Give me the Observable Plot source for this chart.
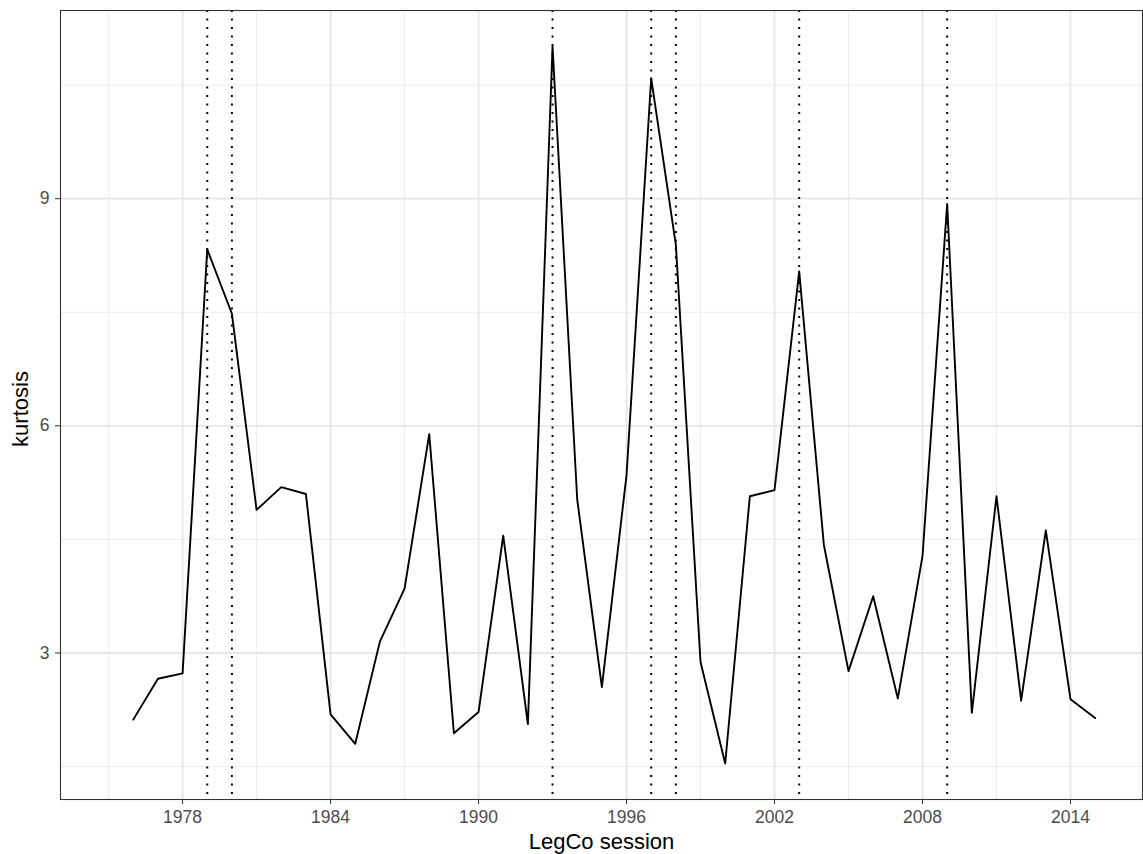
<!DOCTYPE html>
<html><head><meta charset="utf-8">
<script src="https://cdn.jsdelivr.net/npm/d3@7"></script>
<script src="https://cdn.jsdelivr.net/npm/@observablehq/plot@0.6"></script>
<style>body{margin:0;background:#fff;} #chart svg{display:block;}</style>
</head><body><div id="chart"></div>
<script>
const years = [1976,1977,1978,1979,1980,1981,1982,1983,1984,1985,1986,1987,1988,1989,1990,1991,1992,1993,1994,1995,1996,1997,1998,1999,2000,2001,2002,2003,2004,2005,2006,2007,2008,2009,2010,2011,2012,2013,2014,2015];
const kurtosis = [2.12,2.66,2.73,8.33,7.48,4.89,5.19,5.10,2.19,1.80,3.15,3.85,5.89,1.94,2.22,4.55,2.06,11.01,5.03,2.55,5.35,10.59,8.39,2.88,1.54,5.07,5.15,8.04,4.43,2.76,3.75,2.40,4.28,8.93,2.21,5.07,2.37,4.62,2.39,2.14];
const sessionMarks = [1979,1980,1993,1997,1998,2003,2009];
const xMajorTicks = [1978,1984,1990,1996,2002,2008,2014];
const xMinorTicks = [1975,1981,1987,1993,1999,2005,2011];
const yMajorTicks = [3,6,9];
const yMinorTicks = [1.5,4.5,7.5,10.5];
const xTitle = "LegCo session";
const yTitle = "kurtosis";

const data = years.map((year, i) => ({year, kurtosis: kurtosis[i]}));

const chart = Plot.plot({
  width: 1143, height: 854,
  marginLeft: 60, marginRight: 1, marginTop: 10, marginBottom: 55,
  style: {fontFamily: "'Liberation Sans', Arial, Helvetica, sans-serif", background: "#fff"},
  x: {domain: [1973.05, 2016.92]},
  y: {domain: [1.065, 11.485]},
  marks: [
    Plot.ruleX(xMinorTicks, {stroke: "#ebebeb", strokeWidth: 0.9}),
    Plot.ruleY(yMinorTicks, {stroke: "#ebebeb", strokeWidth: 0.9}),
    Plot.ruleX(xMajorTicks, {stroke: "#e6e6e6", strokeWidth: 1.8}),
    Plot.ruleY(yMajorTicks, {stroke: "#e6e6e6", strokeWidth: 1.8}),
    Plot.ruleX(sessionMarks, {stroke: "#000", strokeWidth: 2, strokeDasharray: "2,6.5"}),
    Plot.line(data, {x: "year", y: "kurtosis", stroke: "#000", strokeWidth: 1.9}),
    Plot.frame({stroke: "#333", strokeWidth: 1.1}),
    Plot.axisX({ticks: xMajorTicks, tickFormat: d => String(d), tickSize: 5, tickPadding: 6, fontSize: 17.5, stroke: "#333", fill: "#4d4d4d", label: null}),
    Plot.axisY({ticks: yMajorTicks, tickFormat: d => String(d), tickSize: 5, tickPadding: 6, fontSize: 17.5, stroke: "#333", fill: "#4d4d4d", label: null}),
    Plot.text([xTitle], {text: d => d, frameAnchor: "bottom", dy: 42, fontSize: 22, fill: "#000", textAnchor: "middle", lineAnchor: "middle"}),
    Plot.text([yTitle], {text: d => d, frameAnchor: "left", dx: -40, dy: 4, rotate: -90, fontSize: 22, fill: "#000", textAnchor: "middle", lineAnchor: "middle"})
  ]
});
document.getElementById("chart").appendChild(chart);
</script>
</body></html>
